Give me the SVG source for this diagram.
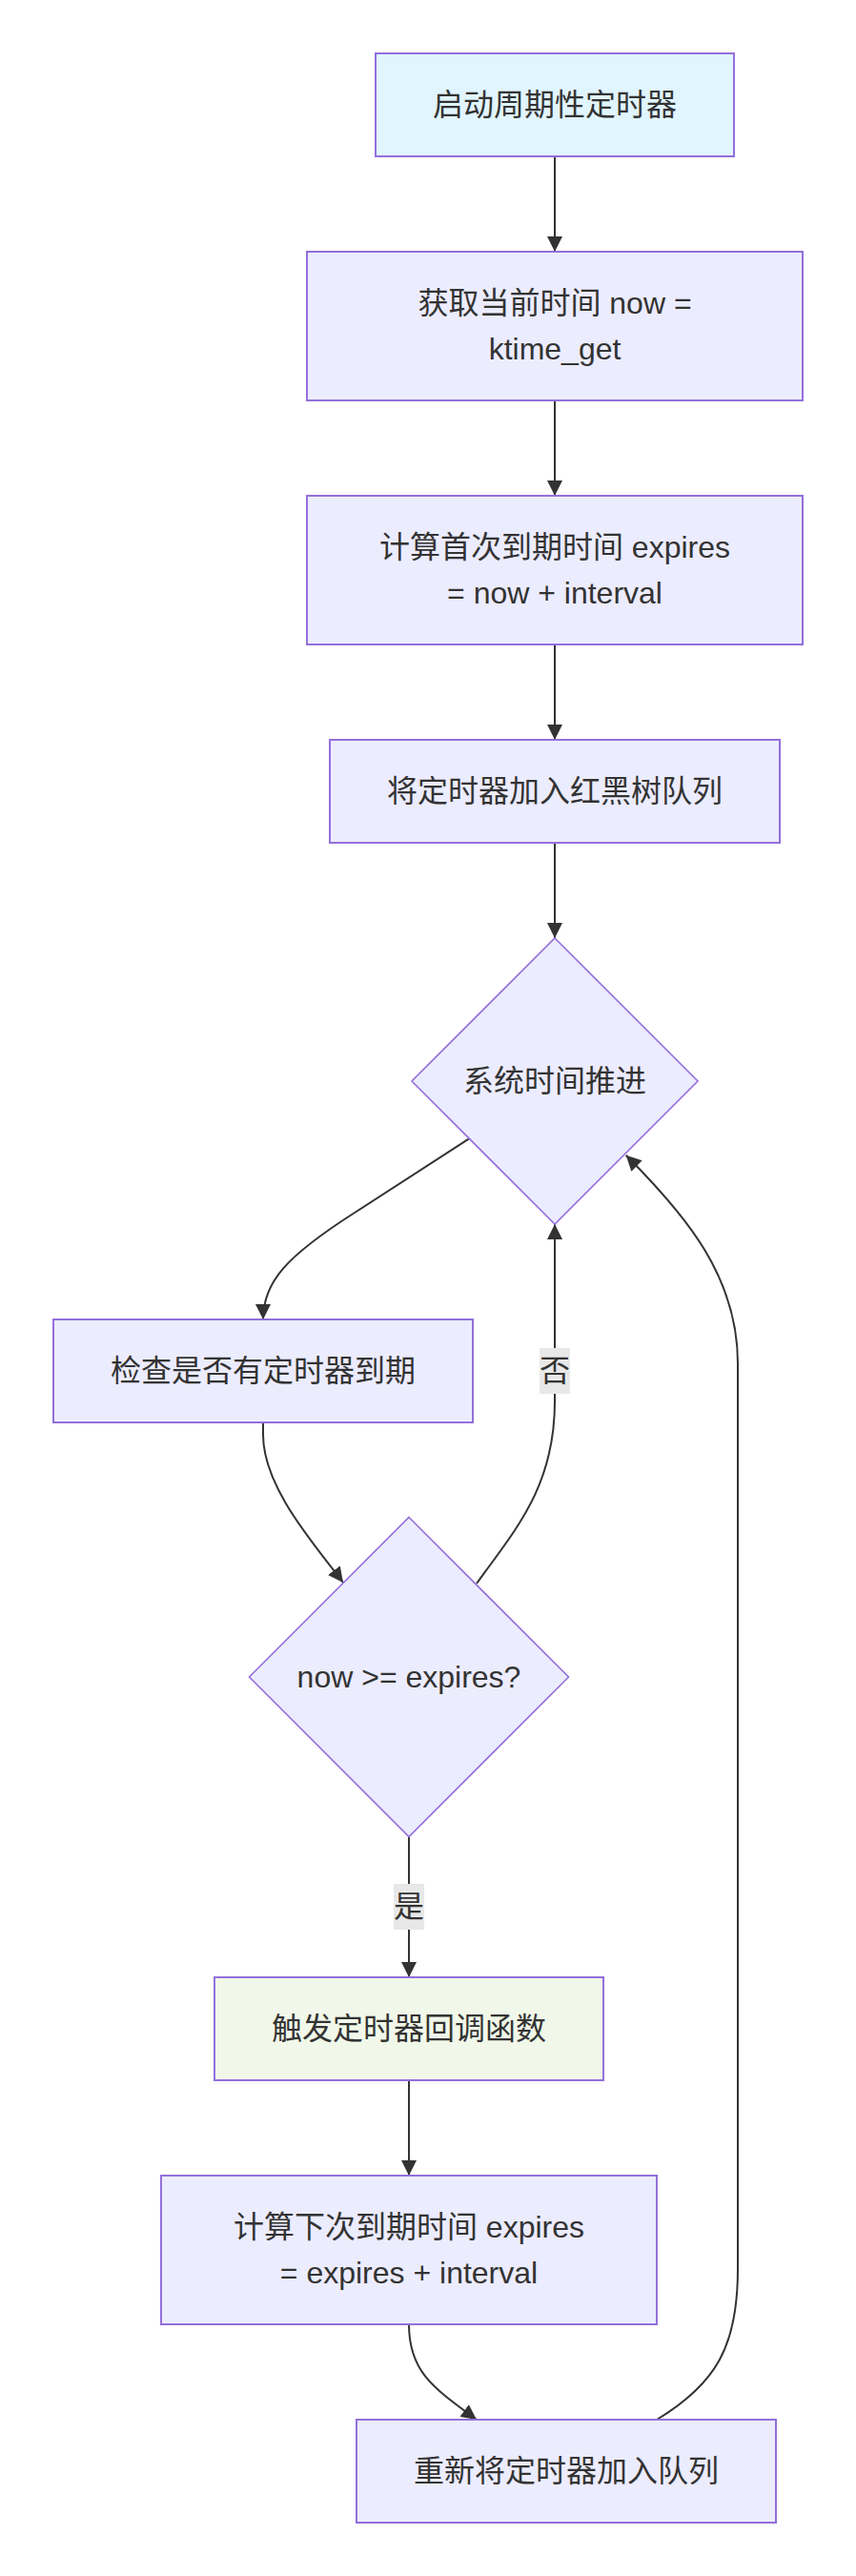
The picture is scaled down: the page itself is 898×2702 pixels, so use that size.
<svg xmlns="http://www.w3.org/2000/svg" width="898" height="2702" viewBox="0 0 898 2702">
<defs>
<style>
.node rect{fill:#ececff;stroke:#9370db;stroke-width:2}
.node polygon{fill:#ececff;stroke:#9370db;stroke-width:1.6}
.node text,.lbl text{font-family:'Liberation Sans','Noto Sans CJK SC',sans-serif;font-size:32px;fill:#333333;text-anchor:middle}
.edges path{fill:none;stroke:#333333;stroke-width:2}
.lbl rect{fill:#e8e8e8}
</style>
<marker id="arr" viewBox="0 0 10 10" refX="10" refY="5" markerUnits="userSpaceOnUse" markerWidth="16" markerHeight="16" orient="auto">
<path d="M0,0 L10,5 L0,10 z" fill="#333333"/>
</marker>
</defs>
<rect x="0" y="0" width="898" height="2702" fill="#ffffff"/>
<g id="edges" class="edges">
<path id="e_A_B" d="M582,164 L582,264" marker-end="url(#arr)"/>
<path id="e_B_C" d="M582,420 L582,520" marker-end="url(#arr)"/>
<path id="e_C_D" d="M582,676 L582,776" marker-end="url(#arr)"/>
<path id="e_D_E" d="M582,884 L582,984" marker-end="url(#arr)"/>
<path id="e_E_F" d="M491.7,1194.6 L372,1272 C300,1318 276,1345 276,1384" marker-end="url(#arr)"/>
<path id="e_F_G" d="M276,1492 L276,1505 C276,1560 330,1620 360,1660" marker-end="url(#arr)"/>
<path id="e_G_E" d="M500,1661 C540,1605 582,1560 582,1470 L582,1284" marker-end="url(#arr)"/>
<path id="e_G_H" d="M429,1926.5 L429,2074" marker-end="url(#arr)"/>
<path id="e_H_I" d="M429,2182 L429,2282" marker-end="url(#arr)"/>
<path id="e_I_J" d="M429,2438 C429,2488 455,2505 500,2538" marker-end="url(#arr)"/>
<path id="e_J_E" d="M689,2538 C752,2500 774,2460 774,2380 L774,1430 C774,1340 720,1275 656.7,1211.7" marker-end="url(#arr)"/>
</g>
<g id="labels">
<g id="lbl_no" class="lbl"><rect x="566" y="1414" width="32" height="48"/><text x="582" y="1449">否</text></g>
<g id="lbl_yes" class="lbl"><rect x="413" y="1976" width="32" height="48"/><text x="429" y="2011">是</text></g>
</g>
<g id="A" class="node"><rect x="394" y="56" width="376" height="108" style="fill:#e1f5fe"/><text x="582" y="121">启动周期性定时器</text></g>
<g id="B" class="node"><rect x="322" y="264" width="520" height="156"/><text x="582" y="329">获取当前时间 now =</text><text x="582" y="377">ktime_get</text></g>
<g id="C" class="node"><rect x="322" y="520" width="520" height="156"/><text x="582" y="585">计算首次到期时间 expires</text><text x="582" y="633">= now + interval</text></g>
<g id="D" class="node"><rect x="346" y="776" width="472" height="108"/><text x="582" y="841">将定时器加入红黑树队列</text></g>
<g id="E" class="node"><polygon points="582,984 732,1134 582,1284 432,1134"/><text x="582" y="1145">系统时间推进</text></g>
<g id="F" class="node"><rect x="56" y="1384" width="440" height="108"/><text x="276" y="1449">检查是否有定时器到期</text></g>
<g id="G" class="node"><polygon points="429,1591.5 596.5,1759 429,1926.5 261.5,1759"/><text x="429" y="1770">now &gt;= expires?</text></g>
<g id="H" class="node"><rect x="225" y="2074" width="408" height="108" style="fill:#f1f8e9"/><text x="429" y="2139">触发定时器回调函数</text></g>
<g id="I" class="node"><rect x="169" y="2282" width="520" height="156"/><text x="429" y="2347">计算下次到期时间 expires</text><text x="429" y="2395">= expires + interval</text></g>
<g id="J" class="node"><rect x="374" y="2538" width="440" height="108"/><text x="594" y="2603">重新将定时器加入队列</text></g>
</svg>
